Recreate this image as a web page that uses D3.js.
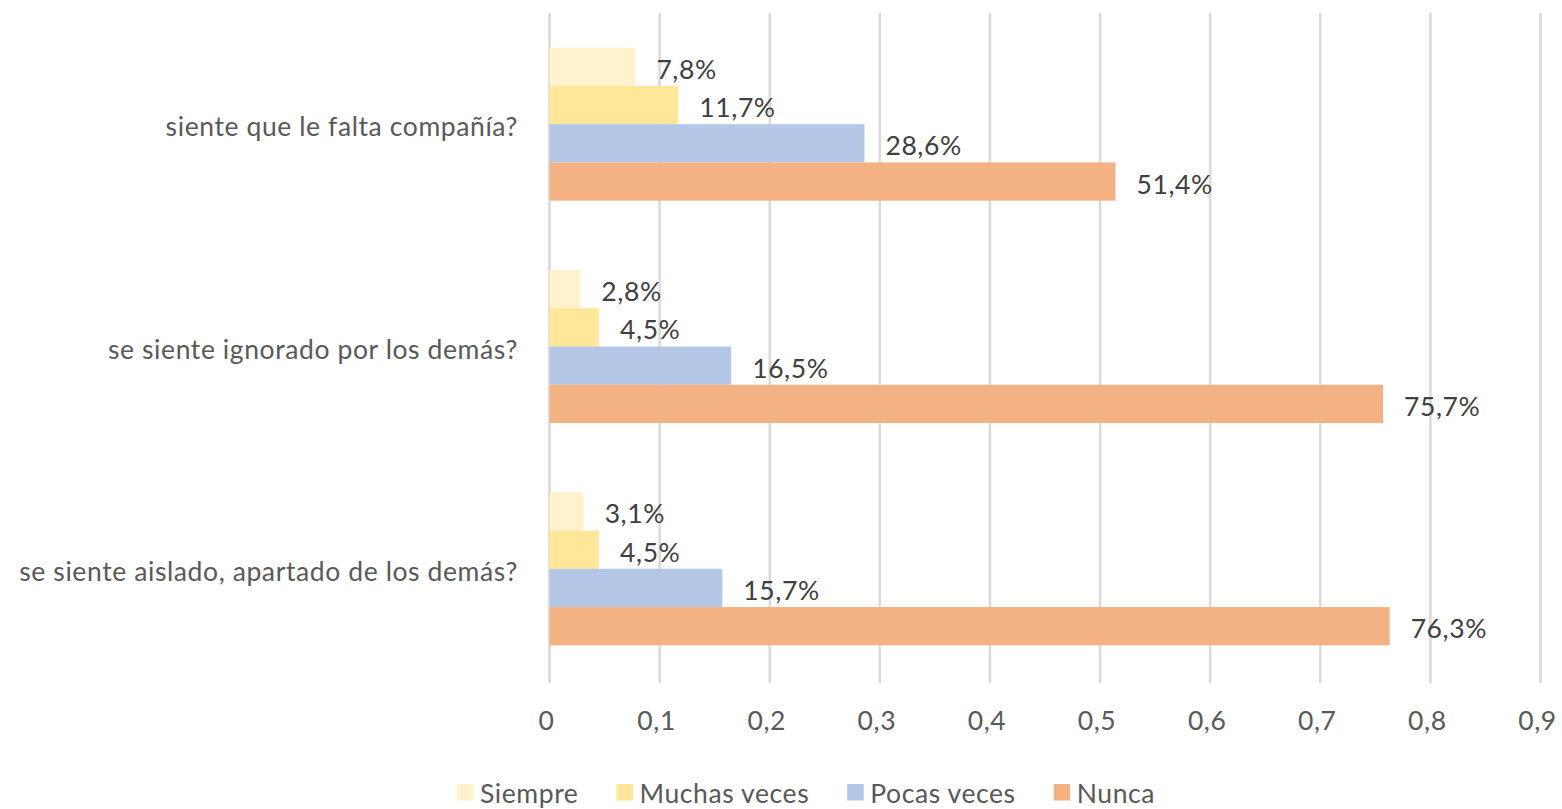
<!DOCTYPE html>
<html>
<head>
<meta charset="utf-8">
<script src="https://cdn.jsdelivr.net/npm/d3@7"></script>
<style>
  html, body { margin: 0; padding: 0; background: #fff; }
  svg { display: block; }
  text { font-family: Lato, "Open Sans", sans-serif; letter-spacing: 0.6px; }
</style>
</head>
<body>
<svg id="chart" width="1562" height="809"></svg>
<script>
const categories = [
  "siente que le falta compañía?",
  "se siente ignorado por los demás?",
  "se siente aislado, apartado de los demás?"
];
const seriesNames = ["Siempre", "Muchas veces", "Pocas veces", "Nunca"];
const seriesColors = ["#FFF2CC", "#FFE699", "#B4C7E7", "#F4B183"];
const siempre = [0.078, 0.028, 0.031];
const muchasVeces = [0.117, 0.045, 0.045];
const pocasVeces = [0.286, 0.165, 0.157];
const nunca = [0.514, 0.757, 0.763];
const tickValues = [0, 0.1, 0.2, 0.3, 0.4, 0.5, 0.6, 0.7, 0.8, 0.9];
const tickLabels = ["0", "0,1", "0,2", "0,3", "0,4", "0,5", "0,6", "0,7", "0,8", "0,9"];

const seriesValues = [siempre, muchasVeces, pocasVeces, nunca];
const FS = 26.5;

const svg = d3.select("#chart");
const plot = { left: 549.5, right: 1540.5, top: 13, bottom: 680 };

const x = d3.scaleLinear().domain([0, 0.9]).range([plot.left, plot.right]);
const y0 = d3.scaleBand().domain(categories).range([plot.top, plot.bottom])
  .paddingInner(0.312).paddingOuter(0.156);
const y1 = d3.scaleBand().domain(seriesNames).range([0, y0.bandwidth()]).padding(0);

// gridlines
svg.append("g").selectAll("line").data(tickValues).join("line")
  .attr("x1", d => x(d)).attr("x2", d => x(d))
  .attr("y1", plot.top).attr("y2", plot.bottom + 3)
  .attr("stroke", "#d9d9d9").attr("stroke-width", 2.5);

// tick labels
svg.append("g").selectAll("text").data(tickValues).join("text")
  .attr("x", d => x(d) - 3).attr("y", 730)
  .attr("text-anchor", "middle")
  .attr("font-size", FS).attr("fill", "#595959")
  .text((d, i) => tickLabels[i]);

// category labels
svg.append("g").selectAll("text").data(categories).join("text")
  .attr("x", 518).attr("y", d => y0(d) + y0.bandwidth() / 2 + 12)
  .attr("text-anchor", "end")
  .attr("font-size", FS).attr("fill", "#595959")
  .text(d => d);

// bars
const flat = [];
categories.forEach((c, ci) => {
  seriesNames.forEach((s, si) => {
    flat.push({ cat: c, series: s, value: seriesValues[si][ci], color: seriesColors[si] });
  });
});

svg.append("g").selectAll("rect").data(flat).join("rect")
  .attr("x", x(0))
  .attr("y", d => y0(d.cat) + y1(d.series))
  .attr("width", d => x(d.value) - x(0))
  .attr("height", y1.bandwidth())
  .attr("fill", d => d.color);

// data labels
const fmt = v => (v * 100).toFixed(1).replace(".", ",") + "%";
svg.append("g").selectAll("text").data(flat).join("text")
  .attr("x", d => x(d.value) + 21)
  .attr("y", d => y0(d.cat) + y1(d.series) + y1.bandwidth() / 2 + 12)
  .attr("font-size", FS).attr("fill", "#404040")
  .text(d => fmt(d.value));

// legend
const legend = svg.append("g");
const items = legend.selectAll("g").data(seriesNames).join("g");
items.append("rect").attr("width", 16.5).attr("height", 16.5).attr("y", 784)
  .attr("fill", (d, i) => seriesColors[i]);
items.append("text").attr("x", 23).attr("y", 803)
  .attr("font-size", FS).attr("fill", "#595959").text(d => d);
const widths = [];
items.each(function () {
  widths.push(23 + this.querySelector("text").getComputedTextLength());
});
const gap = 38;
const total = d3.sum(widths) + gap * (widths.length - 1);
let start = 806 - total / 2;
items.attr("transform", (d, i) => {
  const t = `translate(${start},0)`;
  start += widths[i] + gap;
  return t;
});
</script>
</body>
</html>
